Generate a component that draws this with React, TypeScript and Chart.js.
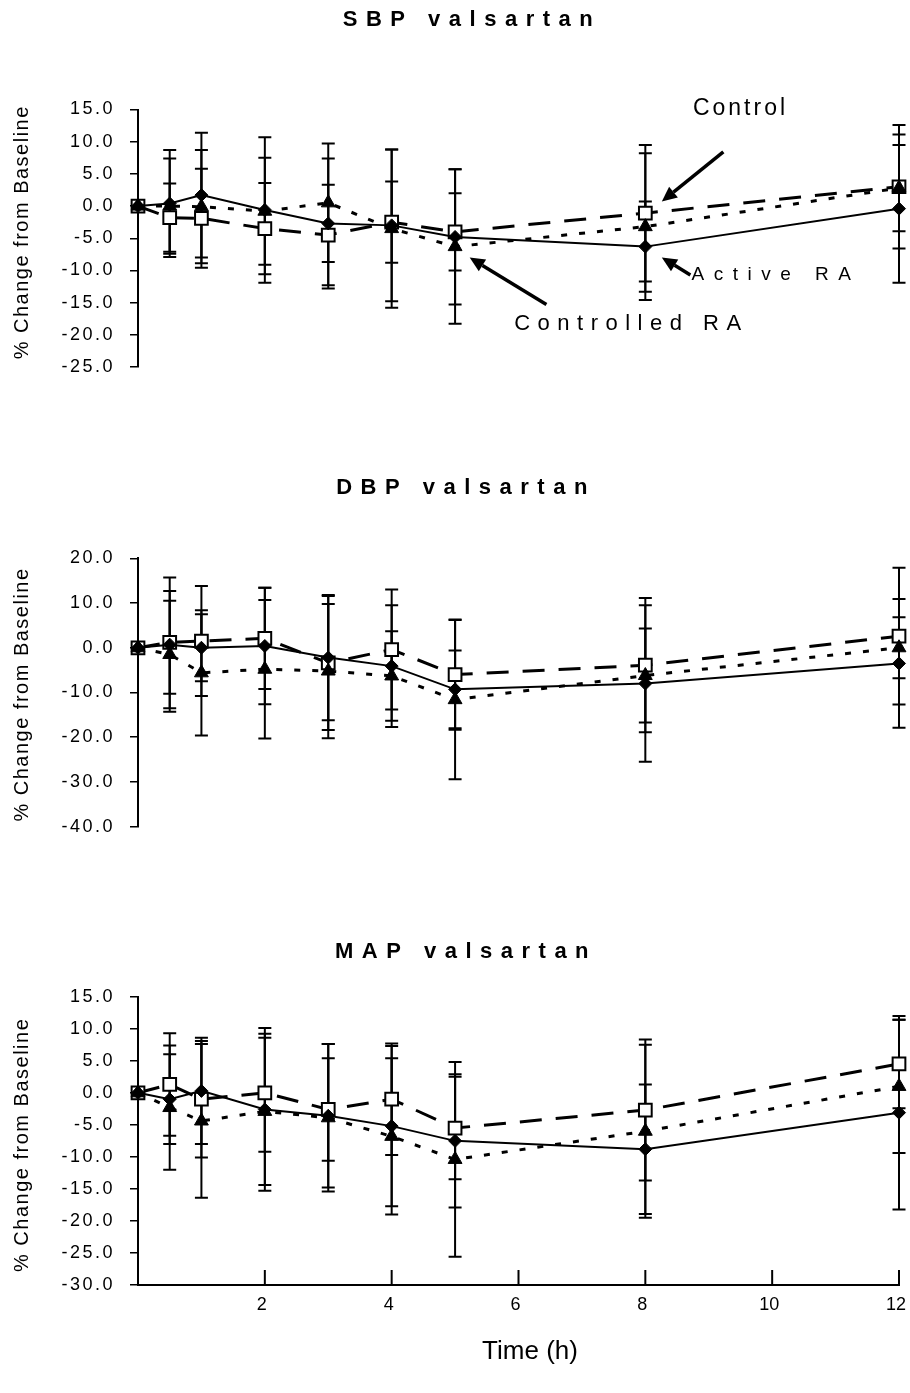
import React, { useEffect, useRef } from 'react';
import { Chart, registerables } from 'chart.js';

Chart.register(...registerables);

const FONT = "'Liberation Sans', Arial, sans-serif";

// ---- shared data ----
const times = [0, 0.5, 1, 2, 3, 4, 5, 8, 12];
const xTickValues = [2, 4, 6, 8, 10, 12];
const seriesNames = ['Active RA', 'Controlled RA', 'Control'];

// ---- SBP valsartan ----
const sbpActive = [0, 0.4, 1.7, -0.6, -2.7, -3.0, -4.8, -6.3, -0.4];
const sbpActiveSd = [0, 8.3, 9.7, 11.3, 10.1, 11.8, 10.5, 7.0, 11.5];
const sbpControlled = [0, 0.0, -0.1, -0.8, 0.5, -3.5, -6.3, -3.2, 2.8];
const sbpControlledSd = [0, 7.4, 8.8, 8.3, 9.2, 12.3, 12.0, 11.4, 6.7];
const sbpControl = [0, -1.8, -1.9, -3.5, -4.5, -2.5, -4.0, -1.1, 3.0];
const sbpControlSd = [0, 5.3, 7.7, 7.1, 7.8, 6.3, 6.0, 10.6, 9.6];
const sbpRange = [-25, 15, 5];

// ---- DBP valsartan ----
const dbpActive = [0, 0.7, 0.0, 0.4, -2.2, -4.1, -9.3, -8.0, -3.5];
const dbpActiveSd = [0, 15, 7.5, 13, 14, 13.6, 8.7, 17.5, 14.4];
const dbpControlled = [0, -1.5, -5.6, -4.8, -5.2, -6.3, -11.6, -6.2, 0.0];
const dbpControlledSd = [0, 12, 14, 15.5, 15, 10, 17.8, 10.5, 6.8];
const dbpControl = [0, 1.2, 1.5, 2.1, -3.4, -0.4, -6.0, -3.9, 2.6];
const dbpControlSd = [0, 11.5, 12.3, 11.3, 15, 13.4, 12.3, 15, 15.3];
const dbpRange = [-40, 20, 10];

// ---- MAP valsartan ----
const mapActive = [0, -1.0, 0.3, -2.6, -3.6, -5.2, -7.5, -8.8, -3.1];
const mapActiveSd = [0, 7.0, 8.3, 12.7, 11.2, 12.5, 10.4, 10.1, 15.1];
const mapControlled = [0, -2.3, -4.4, -2.9, -3.9, -6.8, -10.4, -6.0, 1.0];
const mapControlledSd = [0, 9.7, 12, 11.5, 11.5, 12.2, 15.2, 13.5, 10.4];
const mapControl = [0, 1.3, -1.0, 0.0, -2.6, -1.0, -5.5, -2.7, 4.5];
const mapControlSd = [0, 8.0, 9.1, 9.2, 8.0, 8.7, 8.0, 11.0, 6.9];
const mapRange = [-30, 15, 5];

// annotation labels (SBP panel), anchored in data units
const sbpNotes = [
  { text: 'Control', at: [9.5, 15.2], size: 23, spacing: 3, from: [9.23, 8.4], to: [8.26, 0.7] },
  { text: 'Active RA', at: [10.06, -10.7], size: 19, spacing: 9.5, from: [8.71, -10.7], to: [8.26, -8.0] },
  { text: 'Controlled RA', at: [7.78, -18.3], size: 22, spacing: 7.5, from: [6.44, -15.3], to: [5.23, -8.0] },
];

type Note = { text: string; at: number[]; size: number; spacing: number; from: number[]; to: number[] };
type PanelDef = {
  title: string;
  values: number[][];
  sds: number[][];
  range: number[];
  showX: boolean;
  notes: Note[];
  top: number;
  height: number;
  padTop: number;
  padBottom: number;
  titleX: number;
  titleY: number;
  yTitleShift: number;
};

const panels: PanelDef[] = [
  {
    title: 'SBP valsartan',
    values: [sbpActive, sbpControlled, sbpControl],
    sds: [sbpActiveSd, sbpControlledSd, sbpControlSd],
    range: sbpRange,
    showX: false,
    notes: sbpNotes,
    top: 0, height: 400, padTop: 109.5, padBottom: 33,
    titleX: 472, titleY: 20, yTitleShift: -6,
  },
  {
    title: 'DBP valsartan',
    values: [dbpActive, dbpControlled, dbpControl],
    sds: [dbpActiveSd, dbpControlledSd, dbpControlSd],
    range: dbpRange,
    showX: false,
    notes: [],
    top: 440, height: 420, padTop: 118.3, padBottom: 33.3,
    titleX: 466, titleY: 48, yTitleShift: 2,
  },
  {
    title: 'MAP valsartan',
    values: [mapActive, mapControlled, mapControl],
    sds: [mapActiveSd, mapControlledSd, mapControlSd],
    range: mapRange,
    showX: true,
    notes: [],
    top: 900, height: 493, padTop: 96.7, padBottom: 0,
    titleX: 466, titleY: 52, yTitleShift: 4,
  },
];

const seriesStyles = [
  { borderWidth: 2, borderDash: [], pointStyle: 'rectRot', pointRadius: 6.5, pointBackgroundColor: '#000' },
  { borderWidth: 3, borderDash: [6, 12], pointStyle: 'triangle', pointRadius: 8, pointBackgroundColor: '#000' },
  { borderWidth: 3, borderDash: [22, 14], pointStyle: 'rect', pointRadius: 9, pointBackgroundColor: '#fff' },
];

const spacingPlugin = {
  id: 'tickSpacing',
  beforeDraw(chart: any) {
    chart.ctx.letterSpacing = '2.5px';
  },
  beforeDatasetsDraw(chart: any) {
    chart.ctx.letterSpacing = '0px';
  },
};

const errorBarPlugin = {
  id: 'errorBars',
  beforeDatasetsDraw(chart: any) {
    const { ctx } = chart;
    const xs = chart.scales.x;
    const ys = chart.scales.y;
    ctx.save();
    ctx.strokeStyle = '#000';
    ctx.lineWidth = 2;
    ctx.setLineDash([]);
    chart.data.datasets.forEach((ds: any) => {
      const sd: number[] = ds.errors;
      if (!sd) return;
      ds.data.forEach((p: any, i: number) => {
        const e = sd[i];
        if (!e) return;
        const px = xs.getPixelForValue(p.x);
        const y1 = ys.getPixelForValue(p.y + e);
        const y2 = ys.getPixelForValue(p.y - e);
        ctx.beginPath();
        ctx.moveTo(px, y1);
        ctx.lineTo(px, y2);
        ctx.moveTo(px - 6.5, y1);
        ctx.lineTo(px + 6.5, y1);
        ctx.moveTo(px - 6.5, y2);
        ctx.lineTo(px + 6.5, y2);
        ctx.stroke();
      });
    });
    ctx.restore();
  },
};

function makeDecor(panel: PanelDef) {
  return {
    id: 'decor',
    afterDraw(chart: any) {
      const { ctx, chartArea } = chart;
      const xs = chart.scales.x;
      const ys = chart.scales.y;
      ctx.save();
      ctx.fillStyle = '#000';
      ctx.strokeStyle = '#000';
      ctx.setLineDash([]);
      // title
      ctx.font = `bold 22px ${FONT}`;
      ctx.letterSpacing = '8.5px';
      ctx.textAlign = 'center';
      ctx.textBaseline = 'middle';
      ctx.fillText(panel.title, panel.titleX, panel.titleY);
      // y-axis title
      ctx.save();
      ctx.translate(22, (chartArea.top + chartArea.bottom) / 2 + panel.yTitleShift);
      ctx.rotate(-Math.PI / 2);
      ctx.font = `20px ${FONT}`;
      ctx.letterSpacing = '1.5px';
      ctx.fillText('% Change from Baseline', 0, 0);
      ctx.restore();
      // x axis: inner ticks, labels, title
      if (panel.showX) {
        ctx.lineWidth = 2;
        ctx.letterSpacing = '0px';
        ctx.font = `18px ${FONT}`;
        xTickValues.forEach((t) => {
          const px = xs.getPixelForValue(t);
          ctx.beginPath();
          ctx.moveTo(px, chartArea.bottom);
          ctx.lineTo(px, chartArea.bottom - 15);
          ctx.stroke();
          ctx.fillText(String(t), px - 3, chartArea.bottom + 20);
        });
        ctx.font = `26px ${FONT}`;
        ctx.fillText('Time (h)', 530, chartArea.bottom + 67);
      }
      // annotations
      panel.notes.forEach((n) => {
        ctx.font = `${n.size}px ${FONT}`;
        ctx.letterSpacing = `${n.spacing}px`;
        ctx.fillText(n.text, xs.getPixelForValue(n.at[0]), ys.getPixelForValue(n.at[1]));
        const x1 = xs.getPixelForValue(n.from[0]);
        const y1 = ys.getPixelForValue(n.from[1]);
        const x2 = xs.getPixelForValue(n.to[0]);
        const y2 = ys.getPixelForValue(n.to[1]);
        const ang = Math.atan2(y2 - y1, x2 - x1);
        const headLen = 15;
        const headW = 7;
        const bx = x2 - headLen * Math.cos(ang);
        const by = y2 - headLen * Math.sin(ang);
        ctx.lineWidth = 3.5;
        ctx.beginPath();
        ctx.moveTo(x1, y1);
        ctx.lineTo(bx, by);
        ctx.stroke();
        ctx.beginPath();
        ctx.moveTo(x2, y2);
        ctx.lineTo(bx + headW * Math.sin(ang), by - headW * Math.cos(ang));
        ctx.lineTo(bx - headW * Math.sin(ang), by + headW * Math.cos(ang));
        ctx.closePath();
        ctx.fill();
      });
      ctx.restore();
    },
  };
}

function buildConfig(panel: PanelDef): any {
  const datasets = panel.values.map((vals, si) => ({
    label: seriesNames[si],
    data: times.map((t, i) => ({ x: t, y: vals[i] })),
    errors: panel.sds[si],
    borderColor: '#000',
    backgroundColor: seriesStyles[si].pointBackgroundColor,
    borderWidth: seriesStyles[si].borderWidth,
    borderDash: seriesStyles[si].borderDash,
    pointStyle: seriesStyles[si].pointStyle,
    pointRadius: seriesStyles[si].pointRadius,
    pointBackgroundColor: seriesStyles[si].pointBackgroundColor,
    pointBorderColor: '#000',
    pointBorderWidth: si === 2 ? 2 : 1,
    tension: 0,
    clip: false,
  }));
  const [yMin, yMax, yStep] = panel.range;
  const xScale: any = panel.showX
    ? {
        type: 'linear',
        min: 0,
        max: 12,
        ticks: { display: false, stepSize: 2 },
        grid: { drawOnChartArea: false, drawTicks: false },
        border: { display: true, color: '#000', width: 2 },
        afterFit: (s: any) => {
          s.height = 108;
        },
      }
    : { type: 'linear', min: 0, max: 12, display: false };
  return {
    type: 'line',
    data: { datasets },
    options: {
      responsive: false,
      animation: false,
      devicePixelRatio: 1,
      layout: { padding: { top: panel.padTop, bottom: panel.padBottom, left: 0, right: 10 } },
      plugins: { legend: { display: false }, tooltip: { enabled: false } },
      scales: {
        x: xScale,
        y: {
          type: 'linear',
          min: yMin,
          max: yMax,
          ticks: {
            stepSize: yStep,
            callback: (v: any) => Number(v).toFixed(1),
            color: '#000',
            font: { family: FONT, size: 18 },
            padding: 15,
          },
          grid: { drawOnChartArea: false, drawTicks: true, tickLength: 8, color: '#000', lineWidth: 1.5 },
          border: { display: true, color: '#000', width: 2 },
          afterFit: (s: any) => {
            s.width = 138;
          },
        },
      },
    },
    plugins: [spacingPlugin, errorBarPlugin, makeDecor(panel)],
  };
}

function PanelChart({ panel }: { panel: PanelDef }) {
  const ref = useRef<HTMLCanvasElement | null>(null);
  useEffect(() => {
    if (!ref.current) return;
    const chart = new Chart(ref.current, buildConfig(panel));
    return () => chart.destroy();
  }, [panel]);
  return (
    <canvas
      ref={ref}
      width={910}
      height={panel.height}
      style={{ position: 'absolute', left: 0, top: panel.top, width: 910, height: panel.height }}
    />
  );
}

export default function App() {
  return (
    <div style={{ position: 'absolute', left: 0, top: 0, width: 910, height: 1393, background: '#fff', overflow: 'hidden' }}>
      {panels.map((p) => (
        <PanelChart key={p.title} panel={p} />
      ))}
    </div>
  );
}
